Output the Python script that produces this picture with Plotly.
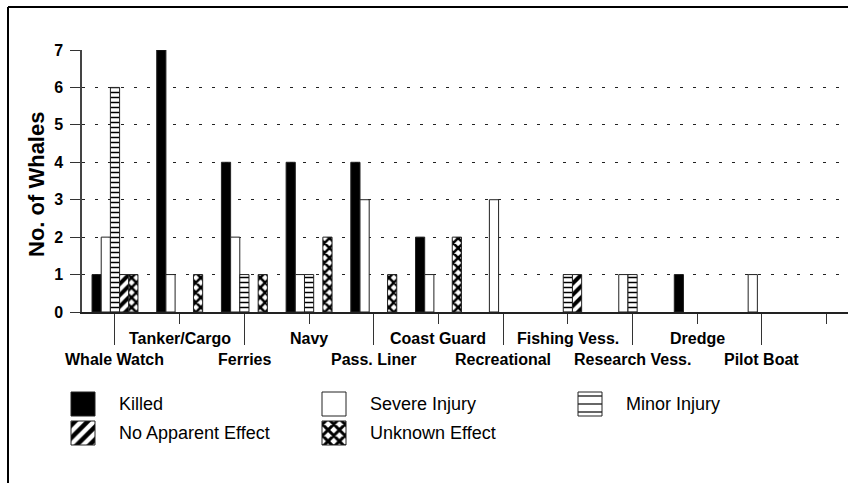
import plotly.graph_objects as go

# ---------------- data ----------------
categories = ["Whale Watch", "Tanker/Cargo", "Ferries", "Navy", "Pass. Liner",
              "Coast Guard", "Recreational", "Fishing Vess.", "Research Vess.",
              "Dredge", "Pilot Boat", ""]
killed    = [1, 7, 4, 4, 4, 2, 0, 0, 0, 1, 0, 0]
severe    = [2, 1, 2, 1, 3, 1, 3, 0, 1, 0, 1, 0]
minor     = [6, 0, 1, 1, 0, 0, 0, 1, 1, 0, 0, 0]
no_effect = [1, 0, 0, 0, 0, 0, 0, 1, 0, 0, 0, 0]
unknown   = [1, 1, 1, 2, 1, 2, 0, 0, 0, 0, 0, 0]
series_names = ["Killed", "Severe Injury", "Minor Injury",
                "No Apparent Effect", "Unknown Effect"]
series_vals = [killed, severe, minor, no_effect, unknown]
y_ticks = [0, 1, 2, 3, 4, 5, 6, 7]

# ---------------- styles ----------------
W, H = 848, 483
FONT = "Arial, Liberation Sans, sans-serif"
styles = [
    dict(color="black", pattern=dict(shape="")),
    dict(color="white", pattern=dict(shape="")),
    dict(color="white", pattern=dict(shape="-", fgcolor="black", bgcolor="white", size=5, solidity=0.3)),
    dict(color="white", pattern=dict(shape="/", fgcolor="black", bgcolor="white", size=8, solidity=0.5)),
    dict(color="white", pattern=dict(shape="x", fgcolor="black", bgcolor="white", size=7, solidity=0.6)),
]
leg_styles = [
    dict(color="black", pattern=dict(shape="")),
    dict(color="white", pattern=dict(shape="")),
    dict(color="white", pattern=dict(shape="-", fgcolor="black", bgcolor="white", size=8, solidity=0.15)),
    dict(color="white", pattern=dict(shape="/", fgcolor="black", bgcolor="white", size=9, solidity=0.5)),
    dict(color="white", pattern=dict(shape="x", fgcolor="black", bgcolor="white", size=8, solidity=0.6)),
]
LEG_COLS = [71, 322, 578]
LEG_ROWS = [404, 433]
SW = 24

idx = list(range(len(categories)))
fig = go.Figure()
for name, vals, st in zip(series_names, series_vals, styles):
    fig.add_trace(go.Bar(
        x=idx, y=vals, name=name, showlegend=False, hoverinfo="skip",
        marker=dict(color=st["color"], pattern=st["pattern"],
                    line=dict(color="#222", width=[1 if v > 0 else 0 for v in vals])),
        xaxis="x", yaxis="y"))

# legend swatches (drawn on an invisible pixel-scaled overlay axis)
leg_pos = [(LEG_COLS[k % 3], LEG_ROWS[k // 3]) for k in range(len(series_names))]
annotations = []
for name, p, st in zip(series_names, leg_pos, leg_styles):
    fig.add_trace(go.Bar(
        x=[p[0] + SW / 2], base=[p[1] - SW / 2], y=[SW], width=SW, offset=-SW / 2,
        offsetgroup="legend",
        marker=dict(color=st["color"], pattern=st["pattern"],
                    line=dict(color="#222", width=1)),
        showlegend=False, hoverinfo="skip", xaxis="x2", yaxis="y2"))
    annotations.append(dict(x=p[0] + 46, y=p[1], xref="x2", yref="y2", text=name,
                            showarrow=False, xanchor="left", yanchor="middle",
                            font=dict(family=FONT, size=18, color="black")))

for i, c in enumerate(categories):
    yy = (H - 359) / H if i % 2 == 0 else (H - 338) / H
    annotations.append(dict(x=i, y=yy, xref="x", yref="paper", text=c, showarrow=False,
                            xanchor="center", yanchor="middle",
                            font=dict(family=FONT, size=16, color="black", weight="bold")))
annotations.append(dict(x=36 / W, y=(H - 185) / H, xref="paper", yref="paper",
                        text="No. of Whales", textangle=-90, showarrow=False,
                        xanchor="center", yanchor="middle",
                        font=dict(family=FONT, size=22, color="black", weight="bold")))

shapes = [
    dict(type="line", xref="paper", yref="paper", x0=8 / W, x1=1.01, y0=(H - 7) / H, y1=(H - 7) / H,
         line=dict(color="black", width=2)),
    dict(type="line", xref="paper", yref="paper", x0=8 / W, x1=8 / W, y0=-0.01, y1=(H - 7) / H,
         line=dict(color="black", width=2)),
]

fig.update_layout(
    template="none",
    width=W, height=H, autosize=False,
    margin=dict(l=0, r=0, t=0, b=0, pad=0),
    paper_bgcolor="white", plot_bgcolor="rgba(0,0,0,0)",
    barmode="group", bargap=0.29, bargroupgap=0,
    font=dict(family=FONT, color="black"),
    xaxis=dict(domain=[82 / W, 1], range=[-0.51, 11.33], showline=True, linecolor="#222",
               linewidth=1.5, showgrid=False, zeroline=False, automargin=False,
               tickmode="array", tickvals=idx[0::2], ticktext=[""] * len(idx[0::2]),
               ticks="outside", ticklen=31, tickwidth=1, tickcolor="#333",
               minor=dict(tickmode="array", tickvals=idx[1::2], ticks="outside",
                          ticklen=10, tickwidth=1, tickcolor="#333", showgrid=False),
               fixedrange=True),
    yaxis=dict(domain=[(H - 312) / H, (H - 50) / H], range=[0, 7], tickmode="array",
               tickvals=y_ticks, showline=True, linecolor="#444", linewidth=1.5,
               ticks="outside", ticklen=10, tickwidth=1, tickcolor="#333",
               ticklabelstandoff=4, automargin=False,
               tickfont=dict(family=FONT, size=16, color="black", weight="bold"),
               showgrid=True, gridcolor="#222", gridwidth=1, griddash="3px,10px",
               zeroline=False, fixedrange=True),
    xaxis2=dict(domain=[0, 1], range=[0, W], visible=False, anchor="y2", fixedrange=True,
                automargin=False),
    yaxis2=dict(domain=[0, 1], range=[H, 0], visible=False, anchor="x2", fixedrange=True,
                automargin=False),
    annotations=annotations, shapes=shapes, showlegend=False,
)

fig.write_html("out.html", config={"displayModeBar": False},
               post_script="document.body.style.margin='0px';document.body.style.overflow='hidden';")
